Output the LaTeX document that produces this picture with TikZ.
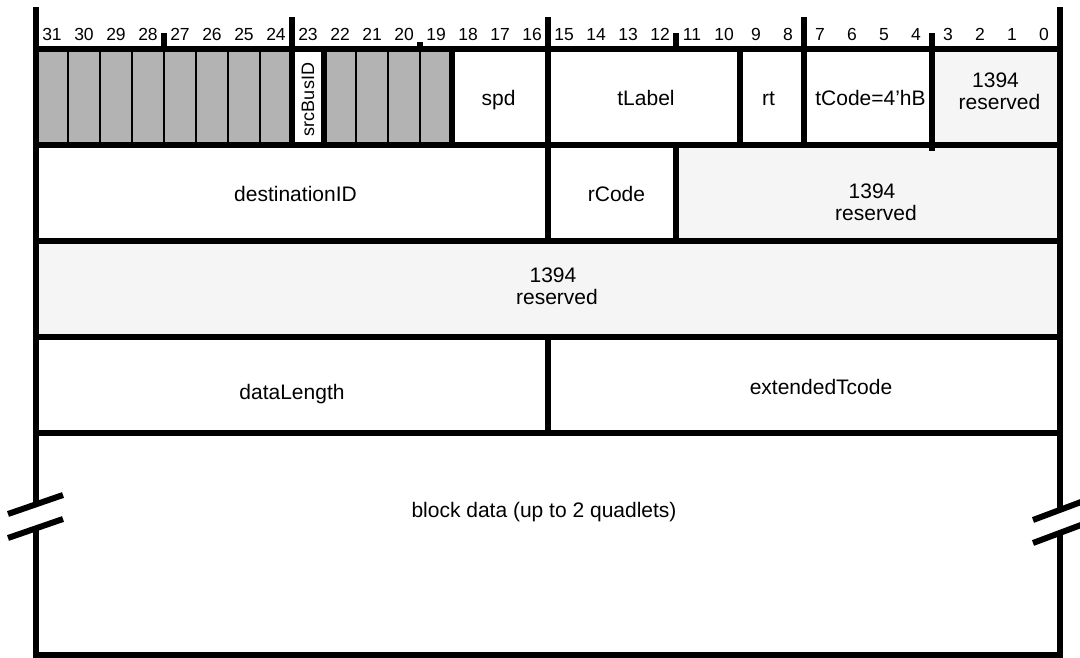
\documentclass[tikz,border=0pt]{standalone}
\usepackage{fontspec}
\setmainfont{Liberation Sans}
\definecolor{cellgray}{RGB}{179,179,179}
\definecolor{resv}{RGB}{245,245,245}
\begin{document}
\begin{tikzpicture}[x=1pt,y=-1pt,
  thickline/.style={line width=6pt},
  thinline/.style={line width=2pt},
  fld/.style={inner sep=0pt, anchor=base, font=\fontsize{21}{22}\selectfont},
  fld2/.style={inner sep=0pt, align=center, font=\fontsize{21}{22}\selectfont},
  bitnum/.style={anchor=base, inner sep=0pt, font=\fontsize{17.5}{18}\selectfont},
]
\useasboundingbox (0,0) rectangle (1080,658);
% fills
\fill[cellgray] (36,49) rectangle (292,145);
\fill[cellgray] (324,49) rectangle (452,145);
\fill[resv] (932,49) rectangle (1060,145);
\fill[resv] (676,145) rectangle (1060,241);
\fill[resv] (36,241) rectangle (1060,337);
% thin dividers in grey cells
\foreach \i in {1,...,7} \draw[thinline] ({36+32*\i},49) -- ({36+32*\i},145);
\foreach \i in {10,11,12} \draw[thinline] ({36+32*\i},49) -- ({36+32*\i},145);
% horizontal row lines
\foreach \y in {49,145,241,337,433,655}
  \draw[thickline,line cap=rect] (36,\y) -- (1060,\y);
% outer verticals with break gaps
\draw[thickline] (36,7) -- (36,504.3);
\draw[thickline] (36,528) -- (36,658);
\draw[thickline] (1060,7) -- (1060,509.7);
\draw[thickline] (1060,532.7) -- (1060,658);
% header markers
\foreach \x in {292,804} \draw[thickline] (\x,17) -- (\x,145);
\foreach \x in {164,676} \draw[thickline] (\x,33) -- (\x,49);
\draw[thickline] (420,42) -- (420,49);
\draw[thickline] (932,33) -- (932,151);
% row 1 dividers
\foreach \x in {324,452,740} \draw[thickline] (\x,49) -- (\x,145);
% 548 divider
\draw[thickline] (548,17) -- (548,241);
\draw[thickline] (548,337) -- (548,433);
% row 2 divider
\draw[thickline] (676,145) -- (676,241);
% break marks
\draw[thickline] (8,514) -- (63,495);
\draw[thickline] (8,538) -- (63,519);
\draw[thickline] (1033,520) -- (1085,500.5);
\draw[thickline] (1033,543) -- (1085,523.5);
% bit numbers
\foreach \b in {0,...,31}
  \node[bitnum] (b\b) at ({36+32*(31-\b)+16},41) {\b};
% row 1 texts
\node[inner sep=0pt, rotate=90, font=\fontsize{18}{18}\selectfont] (srcbus) at (308,99.5) {srcBusID};
\node[fld] (spd) at (498.5,106) {spd};
\node[fld] (tlabel) at (646,106) {tLabel};
\node[fld] (rt) at (768.5,106) {rt};
\node[fld] (tcode) at (870.5,106) {tCode=4’hB};
\node[fld2] (res1) at (995.5,91) {1394\hspace{8pt}\\\hspace{8pt}reserved};
% row 2
\node[fld] (dest) at (295.5,201) {destinationID};
\node[fld] (rcode) at (616.5,201) {rCode};
\node[fld2] (res2) at (872,202) {1394\hspace{8pt}\\\hspace{8pt}reserved};
% row 3
\node[fld2] (res3) at (553,286) {1394\hspace{8pt}\\\hspace{8pt}reserved};
% row 4
\node[fld] (dlen) at (292,399) {dataLength};
\node[fld] (ext) at (821,394) {extendedTcode};
% row 5
\node[fld] (block) at (544,517) {block data (up to 2 quadlets)};
\end{tikzpicture}
\end{document}
